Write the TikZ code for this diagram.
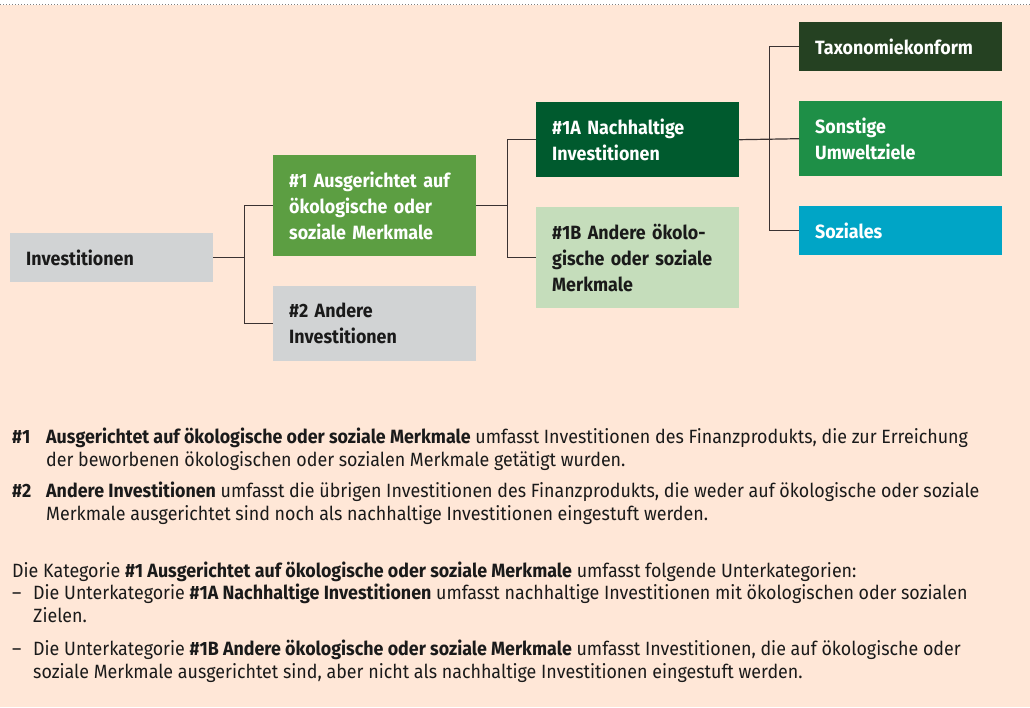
\documentclass[tikz,border=0pt]{standalone}
\usepackage{fontspec}
\setmainfont{Fira Sans}[FakeStretch=0.93]
\usetikzlibrary{positioning}
\definecolor{bgcolor}{HTML}{FFE7D7}
\definecolor{greycolor}{HTML}{D1D3D4}
\definecolor{alignedcolor}{HTML}{5C9E42}
\definecolor{sustcolor}{HTML}{005A2E}
\definecolor{othercolor}{HTML}{C5DDBB}
\definecolor{taxocolor}{HTML}{254122}
\definecolor{envcolor}{HTML}{1E8F47}
\definecolor{socialcolor}{HTML}{00A5C6}
\definecolor{linecolor}{HTML}{3A3232}
\definecolor{textcolor}{HTML}{1A1A1A}

\begin{document}
\begin{tikzpicture}[
    x=1pt, y=-1pt,
    box/.style={rectangle, anchor=north west, inner xsep=16pt, inner ysep=0pt,
                text width=171pt, align=left,
                font=\fontsize{19.2}{26}\selectfont\bfseries},
    link/.style={draw=linecolor, line width=1.2pt},
    body/.style={anchor=north west, inner sep=0pt, align=left, text=textcolor,
                 font=\fontsize{19.2}{23}\selectfont}
]

% Canvas
\useasboundingbox (0,0) rectangle (1030,707);
\fill[bgcolor] (0,5) rectangle (1030,707);
\draw[gray, dotted, line width=1pt] (0,4) -- (1030,4);

% Tree
\node[box, fill=greycolor, minimum height=49pt, text=textcolor] (inv) at (10,233) {Investitionen};
\node[box, fill=alignedcolor, minimum height=101pt, text=white] (cat1) at (273,155) {\#1 Ausgerichtet auf\\ökologische oder\\soziale Merkmale};
\node[box, fill=greycolor, minimum height=75pt, text=textcolor] (cat2) at (273,286) {\#2 Andere\\Investitionen};

\node[box, fill=sustcolor, minimum height=75pt, text=white] (sub1a) at (536,102) {\#1A Nachhaltige\\Investitionen};
\node[box, fill=othercolor, minimum height=101pt, text=textcolor] (sub1b) at (536,207) {\#1B Andere ökolo-\\gische oder soziale\\Merkmale};

\node[box, fill=taxocolor, minimum height=49pt, text=white] (taxo) at (799,22) {Taxonomiekonform};
\node[box, fill=envcolor, minimum height=75pt, text=white] (env) at (799,101) {Sonstige\\Umweltziele};
\node[box, fill=socialcolor, minimum height=49pt, text=white] (social) at (799,206) {Soziales};

\draw[link] (inv.east) -- ++(31,0) |- (cat1.west);
\draw[link] (inv.east) -- ++(31,0) |- (cat2.west);
\draw[link] (cat1.east) -- ++(31,0) |- (sub1a.west);
\draw[link] (cat1.east) -- ++(31,0) |- (sub1b.west);
\draw[link] (sub1a.east) -- ++(30,0) |- (taxo.west);
\draw[link] (sub1a.east) -- (env.west);
\draw[link] (sub1a.east) -- ++(30,0) |- (social.west);

% Notes
\node[body, font=\fontsize{19.2}{23}\selectfont\bfseries] (n1) at (12,427) {\strut\#1};
\node[body] (t1) at (46,427) {\strut\textbf{Ausgerichtet auf ökologische oder soziale Merkmale} umfasst Investitionen des Finanzprodukts, die zur Erreichung\\der beworbenen ökologischen oder sozialen Merkmale getätigt wurden.};
\node[body, font=\fontsize{19.2}{23}\selectfont\bfseries] (n2) at (12,481) {\strut\#2};
\node[body] (t2) at (46,481) {\strut\textbf{Andere Investitionen} umfasst die übrigen Investitionen des Finanzprodukts, die weder auf ökologische oder soziale\\Merkmale ausgerichtet sind noch als nachhaltige Investitionen eingestuft werden.};

\node[body] (cat) at (12,561) {\strut Die Kategorie \textbf{\#1 Ausgerichtet auf ökologische oder soziale Merkmale} umfasst folgende Unterkategorien:};
\node[body] (d1) at (12,583) {\strut–};
\node[body] (s1) at (33,583) {\strut Die Unterkategorie \textbf{\#1A Nachhaltige Investitionen} umfasst nachhaltige Investitionen mit ökologischen oder sozialen\\Zielen.};
\node[body] (d2) at (12,639) {\strut–};
\node[body] (s2) at (33,639) {\strut Die Unterkategorie \textbf{\#1B Andere ökologische oder soziale Merkmale} umfasst Investitionen, die auf ökologische oder\\soziale Merkmale ausgerichtet sind, aber nicht als nachhaltige Investitionen eingestuft werden.};

\end{tikzpicture}
\end{document}
